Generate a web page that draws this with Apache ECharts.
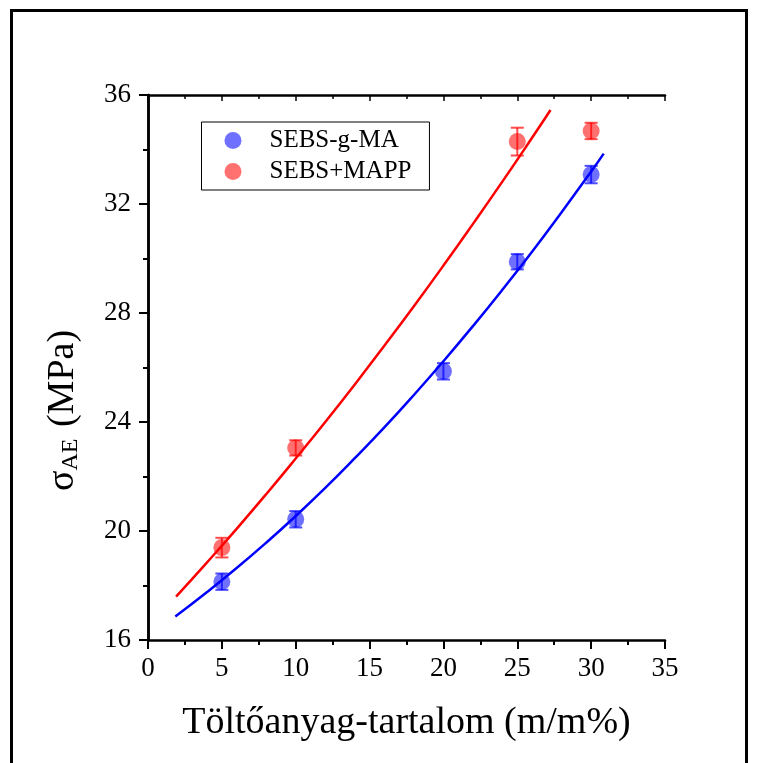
<!DOCTYPE html>
<html>
<head>
<meta charset="utf-8">
<script src="https://cdn.jsdelivr.net/npm/echarts@6/dist/echarts.min.js"></script>
<style>
  html, body { margin: 0; padding: 0; background: #fff; }
  #chart { width: 757px; height: 763px; }
</style>
</head>
<body>
<div id="chart"></div>
<script>
// Filler content (m/m%)
const filler = [5, 10, 20, 25, 30];

// SEBS-g-MA: measured strength and error
const maValues = [18.14, 20.43, 25.86, 29.88, 33.08];
const maErrors = [0.3, 0.3, 0.3, 0.28, 0.32];

// SEBS+MAPP: measured strength and error
const mappFiller = [5, 10, 25, 30];
const mappValues = [19.39, 23.05, 34.29, 34.68];
const mappErrors = [0.36, 0.28, 0.51, 0.3];

// Fitted trend curves, sampled along x
const maFitX = [1.85, 4, 6, 8, 10, 12, 14, 16, 18, 20, 22, 24, 26, 28, 30, 30.85];
const maFitY = [16.86, 17.76, 18.64, 19.57, 20.55, 21.58, 22.67, 23.80, 24.99, 26.23, 27.52, 28.86, 30.25, 31.70, 33.19, 33.85];
const mappFitX = [1.9, 4, 6, 8, 10, 12, 14, 16, 18, 20, 22, 24, 26, 27.25];
const mappFitY = [17.59, 18.85, 20.08, 21.35, 22.66, 24.00, 25.38, 26.80, 28.25, 29.74, 31.27, 32.83, 34.43, 35.45];

const xTicks = { min: 0, max: 35, interval: 5 };
const yTicks = { min: 16, max: 36, interval: 4 };

const BLUE_DOT = 'rgba(0,0,255,0.7)';
const RED_DOT = 'rgba(255,0,0,0.7)';
const FONT = 'Liberation Serif';

const zip = (xs, ys) => xs.map((x, i) => [x, ys[i]]);

function errorBarSeries(xs, ys, errs, color) {
  return {
    type: 'custom',
    silent: true,
    z: 3,
    data: xs.map((x, i) => [x, ys[i] - errs[i], ys[i] + errs[i]]),
    renderItem: function (params, api) {
      const lo = api.coord([api.value(0), api.value(1)]);
      const hi = api.coord([api.value(0), api.value(2)]);
      const half = 6.5;
      const style = { stroke: color, lineWidth: 2 };
      return {
        type: 'group',
        children: [
          { type: 'line', shape: { x1: lo[0], y1: lo[1], x2: hi[0], y2: hi[1] }, style },
          { type: 'line', shape: { x1: lo[0] - half, y1: lo[1], x2: lo[0] + half, y2: lo[1] }, style },
          { type: 'line', shape: { x1: hi[0] - half, y1: hi[1], x2: hi[0] + half, y2: hi[1] }, style }
        ]
      };
    }
  };
}

const axisLineStyle = { color: '#000', width: 2.5 };

const chart = echarts.init(document.getElementById('chart'), null, { renderer: 'canvas' });

chart.setOption({
  backgroundColor: '#fff',
  animation: false,
  textStyle: { fontFamily: FONT },
  graphic: [
    {
      type: 'rect',
      shape: { x: 11.5, y: 10.5, width: 735, height: 800 },
      style: { fill: 'none', stroke: '#000', lineWidth: 3 },
      silent: true
    }
  ],
  grid: { left: 148, right: 92, top: 95, bottom: 123 },
  legend: {
    data: ['SEBS-g-MA', 'SEBS+MAPP'],
    orient: 'vertical',
    left: 201.5,
    top: 122,
    padding: [6, 18, 6, 23],
    itemWidth: 17,
    itemHeight: 17,
    itemGap: 6,
    borderColor: '#000',
    borderWidth: 1,
    borderRadius: 0,
    textStyle: { fontFamily: FONT, fontSize: 25, color: '#000', padding: [0, 0, 0, 23] }
  },
  xAxis: [
    {
      type: 'value',
      position: 'bottom',
      min: xTicks.min, max: xTicks.max, interval: xTicks.interval,
      name: 'Töltőanyag-tartalom (m/m%)',
      nameLocation: 'middle',
      nameGap: 64,
      nameTextStyle: { fontFamily: FONT, fontSize: 38, color: '#000' },
      axisLine: { show: true, lineStyle: axisLineStyle },
      axisTick: { show: true, inside: false, length: 9, lineStyle: { color: '#000', width: 2 } },
      minorTick: { show: true, splitNumber: 2, length: 5, lineStyle: { color: '#000', width: 2 } },
      axisLabel: { fontFamily: FONT, fontSize: 27, color: '#000', margin: 15 },
      splitLine: { show: false }
    },
    {
      type: 'value',
      position: 'top',
      min: xTicks.min, max: xTicks.max, interval: xTicks.interval,
      axisLine: { show: true, lineStyle: axisLineStyle },
      axisTick: { show: true, inside: true, length: 6, lineStyle: { color: '#000', width: 1.5 } },
      minorTick: { show: true, splitNumber: 2, length: 4, lineStyle: { color: '#000', width: 1.5 } },
      axisLabel: { show: false },
      splitLine: { show: false }
    }
  ],
  yAxis: [
    {
      type: 'value',
      position: 'left',
      min: yTicks.min, max: yTicks.max, interval: yTicks.interval,
      name: '{s|σ}{sub|AE}{s| (MPa)}',
      nameLocation: 'middle',
      nameGap: 62,
      nameTextStyle: {
        color: '#000',
        padding: [0, 86, 0, 0],
        rich: {
          s: { fontFamily: FONT, fontSize: 38, color: '#000', lineHeight: 46, verticalAlign: 'middle' },
          sub: { fontFamily: FONT, fontSize: 24, color: '#000', lineHeight: 46, verticalAlign: 'middle', padding: [16, 2, 0, 0] }
        }
      },
      axisLine: { show: true, lineStyle: axisLineStyle },
      axisTick: { show: true, inside: false, length: 9, lineStyle: { color: '#000', width: 2 } },
      minorTick: { show: true, splitNumber: 2, length: 5, lineStyle: { color: '#000', width: 2 } },
      axisLabel: { fontFamily: FONT, fontSize: 27, color: '#000', margin: 17 },
      splitLine: { show: false }
    },
    {
      type: 'value',
      position: 'right',
      min: yTicks.min, max: yTicks.max, interval: yTicks.interval,
      axisLine: { show: true, lineStyle: axisLineStyle },
      axisTick: { show: true, inside: true, length: 6, lineStyle: { color: '#000', width: 1.5 } },
      minorTick: { show: true, splitNumber: 2, length: 4, lineStyle: { color: '#000', width: 1.5 } },
      axisLabel: { show: false },
      splitLine: { show: false }
    }
  ],
  series: [
    {
      type: 'line',
      data: zip(maFitX, maFitY),
      smooth: true,
      showSymbol: false,
      silent: true,
      lineStyle: { color: '#0000ff', width: 2.5 },
      z: 2
    },
    {
      type: 'line',
      data: zip(mappFitX, mappFitY),
      smooth: true,
      showSymbol: false,
      silent: true,
      lineStyle: { color: '#ff0000', width: 2.5 },
      z: 2
    },
    errorBarSeries(filler, maValues, maErrors, BLUE_DOT),
    errorBarSeries(mappFiller, mappValues, mappErrors, RED_DOT),
    {
      name: 'SEBS-g-MA',
      type: 'scatter',
      data: zip(filler, maValues),
      symbol: 'circle',
      symbolSize: 17,
      itemStyle: { color: BLUE_DOT },
      z: 4
    },
    {
      name: 'SEBS+MAPP',
      type: 'scatter',
      data: zip(mappFiller, mappValues),
      symbol: 'circle',
      symbolSize: 17,
      itemStyle: { color: RED_DOT },
      z: 4
    }
  ]
});
</script>
</body>
</html>
